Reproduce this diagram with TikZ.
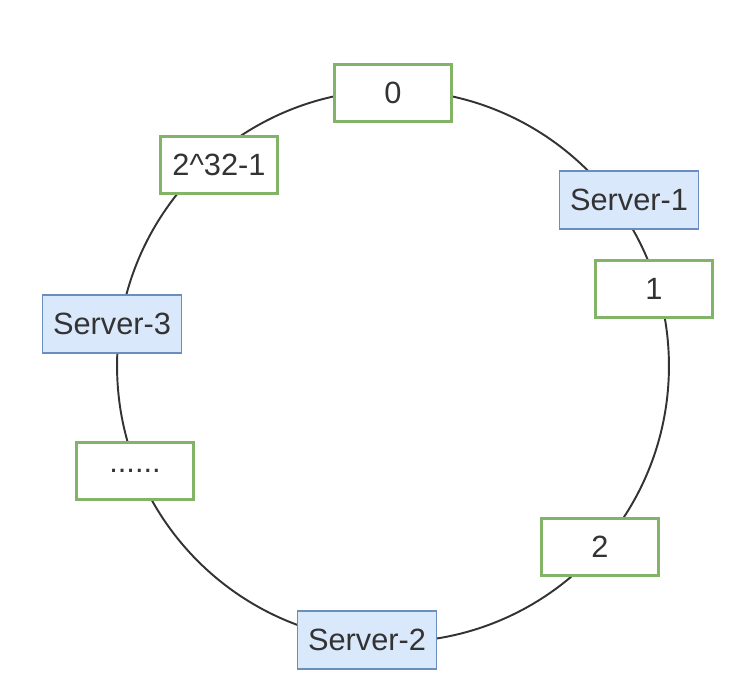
\documentclass[tikz,border=0pt]{standalone}
\usepackage{fontspec}
\setmainfont{Liberation Sans}
\definecolor{keygreen}{RGB}{130,179,102}
\definecolor{serverblue}{RGB}{108,142,191}
\definecolor{serverfill}{RGB}{218,232,252}
\definecolor{ringgray}{RGB}{51,51,51}
\definecolor{textgray}{RGB}{51,51,51}
\begin{document}
\begin{tikzpicture}[x=0.02cm,y=-0.02cm,every text node part/.style={align=center},
		keynode/.style={draw=keygreen,line width=1.6pt,fill=white,text=textgray,minimum width=2.34cm,minimum height=1.14cm,inner sep=0pt,font=\fontsize{17.5}{21}\selectfont},
		servernode/.style={draw=serverblue,line width=1pt,fill=serverfill,text=textgray,minimum width=2.78cm,minimum height=1.16cm,inner sep=0pt,font=\fontsize{17.5}{21}\selectfont}]
			\useasboundingbox (0,0) rectangle (751,700);
			\node[draw=ringgray,line width=1.1pt,circle,minimum size=11.04cm,inner sep=0pt] (ring) at (393,366) {};
			\node[keynode] (k0) at (393,93) {0};
			\node[keynode] (kmax) at (219,165) {2\^{}32-1};
			\node[servernode] (s1) at (629,200) {Server-1};
			\node[keynode] (k1) at (654,289) {1};
			\node[servernode] (s3) at (112,324) {Server-3};
			\node[keynode] (kdots) at (135,471) {......};
			\node[keynode] (k2) at (600,547) {2};
			\node[servernode] (s2) at (367,640) {Server-2};
		\end{tikzpicture}
\end{document}
